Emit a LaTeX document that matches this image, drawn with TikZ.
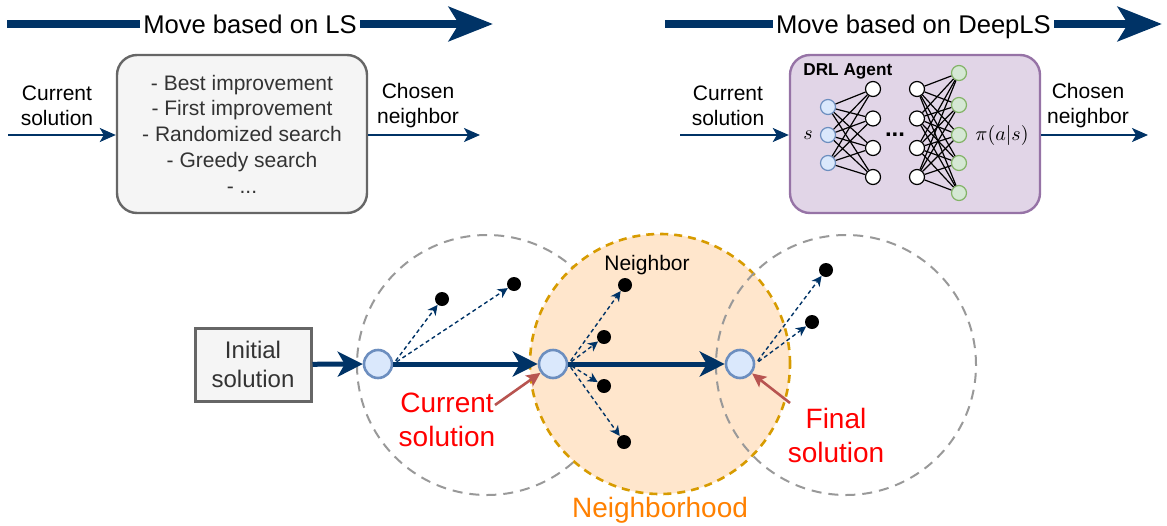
\documentclass[tikz,border=0pt]{standalone}
\usepackage{fontspec}
\setmainfont{Liberation Sans}
\usepackage{amsmath}
\usetikzlibrary{positioning, arrows.meta}

\definecolor{navy}{RGB}{0,51,102}
\definecolor{boxgray}{HTML}{F5F5F5}
\definecolor{linegray}{HTML}{666666}
\definecolor{textgray}{HTML}{333333}
\definecolor{agentfill}{HTML}{E1D5E7}
\definecolor{agentline}{HTML}{9673A6}
\definecolor{solfill}{HTML}{DAE8FC}
\definecolor{solline}{HTML}{6C8EBF}
\definecolor{outfill}{HTML}{D5E8D4}
\definecolor{outstroke}{HTML}{82B366}
\definecolor{hoodfill}{HTML}{FFE6CC}
\definecolor{hoodline}{HTML}{D79B00}
\definecolor{pointred}{HTML}{B85450}
\definecolor{hoodtext}{HTML}{FF8000}
\definecolor{dashgray}{HTML}{999999}

\begin{document}
\begin{tikzpicture}[
  x=0.5pt, y=-0.5pt,
  >=Stealth,
  lbl/.style={align=center, inner sep=0pt, font=\fontsize{10.5}{12.5}\selectfont},
  headline/.style={fill=white, text=black, inner sep=1.5pt, font=\fontsize{12.8}{15}\selectfont, text height=9.2pt, text depth=0pt},
  bigarrow/.style={navy, line width=4.3pt, -{Stealth[length=22pt, width=17pt, inset=5pt]}},
  flow/.style={navy, line width=1pt, -{Stealth[length=8pt, width=7pt, inset=2pt]}},
  move/.style={navy, line width=2.5pt, -{Stealth[length=12.5pt, width=12.5pt, inset=3.5pt]}},
  probe/.style={navy, line width=0.7pt, dash pattern=on 2pt off 1.5pt, shorten <=2pt, -{Stealth[length=5pt, width=5pt, inset=1.5pt]}},
  pointer/.style={pointred, line width=1.3pt, -{Stealth[length=7pt, width=6.5pt, inset=1.5pt]}},
  sol/.style={circle, draw=solline, fill=solfill, line width=1.3pt, minimum size=14pt, inner sep=0pt},
  nbr/.style={circle, fill=black, minimum size=7pt, inner sep=0pt},
  hood/.style={circle, draw=dashgray, line width=1pt, dash pattern=on 5pt off 3.5pt, minimum size=130pt, inner sep=0pt},
  unit/.style={circle, draw, line width=0.6pt, fill=white, minimum size=7.5pt, inner sep=0pt},
  redlbl/.style={align=center, inner sep=0pt, text=red, font=\fontsize{14}{17}\selectfont}
]
  \useasboundingbox (0,0) rectangle (1167,525);

  % move based on LS
  \coordinate (lsL) at (7,24);
  \coordinate (lsR) at (493,24);
  \draw[bigarrow] (lsL) -- node[headline] (lsTitle) {Move based on LS} (lsR);
  \node[draw=linegray, fill=boxgray, line width=1.2pt, rounded corners=10pt, minimum width=125pt, minimum height=79pt, text=textgray, align=center, font=\fontsize{10.5}{12.85}\selectfont] (lsBox) at (242,134) {- Best improvement\\- First improvement\\- Randomized search\\- Greedy search\\- ...};
  \node[lbl] (lsIn) at (57,106) {Current\\solution};
  \node[lbl] (lsOut) at (418,106) {Chosen\\neighbor};
  \coordinate (lsStart) at (8,135);
  \coordinate (lsEnd) at (480,135);
  \draw[flow] (lsStart) -- (lsStart -| lsBox.west);
  \draw[flow] (lsEnd -| lsBox.east) -- (lsEnd);

  % move based on DeepLS
  \coordinate (drlL) at (665,24);
  \coordinate (drlR) at (1162,24);
  \draw[bigarrow] (drlL) -- node[headline] (drlTitle) {Move based on DeepLS} (drlR);
  \node[draw=agentline, fill=agentfill, line width=1.2pt, rounded corners=10pt, minimum width=125pt, minimum height=79pt] (drlBox) at (915,134) {};
  \node[anchor=west, inner sep=0pt, font=\bfseries\fontsize{8.6}{10}\selectfont] (agentLbl) at (803,71) {DRL Agent};
  \node[lbl] (drlIn) at (728,106) {Current\\solution};
  \node[lbl] (drlOut) at (1088,106) {Chosen\\neighbor};
  \coordinate (drlStart) at (680,135);
  \coordinate (drlEnd) at (1148,135);
  \draw[flow] (drlStart) -- (drlStart -| drlBox.west);
  \draw[flow] (drlEnd -| drlBox.east) -- (drlEnd);

  % policy network
  \foreach \i/\y in {1/107, 2/135, 3/163}
    \node[unit, draw=solline, fill=solfill] (in\i) at (828,\y) {};
  \foreach \i/\y in {1/89, 2/118.5, 3/148, 4/177} {
    \node[unit] (ha\i) at (873,\y) {};
    \node[unit] (hb\i) at (917,\y) {};
  }
  \foreach \i/\y in {1/73, 2/105, 3/135, 4/163, 5/193}
    \node[unit, draw=outstroke, fill=outfill] (out\i) at (959,\y) {};
  \foreach \i in {1,2,3}
    \foreach \j in {1,...,4}
      \draw[line width=0.6pt] (in\i) -- (ha\j);
  \foreach \i in {1,...,4}
    \foreach \j in {1,...,5}
      \draw[line width=0.6pt] (hb\i) -- (out\j);
  \node[inner sep=0pt, font=\bfseries\fontsize{12}{12}\selectfont] (gap) at (895,135) {...};
  \node[inner sep=0pt] (stateLbl) at (808,135) {$s$};
  \node[inner sep=0pt] (policyLbl) at (1002,135) {$\pi(a|s)$};

  % neighborhoods
  \node[hood] (hoodA) at (487,365) {};
  \node[hood, draw=hoodline, fill=hoodfill, line width=1.3pt, dash pattern=on 4pt off 3pt] (hoodB) at (660,364) {};
  \node[hood] (hoodC) at (846,365) {};
  \node[below=1pt of hoodB, inner sep=0pt, text=hoodtext, font=\fontsize{14}{17}\selectfont] (hoodLbl) {Neighborhood};

  \node[draw=linegray, fill=boxgray, line width=1.5pt, minimum width=58pt, minimum height=36.5pt, text=textgray, align=center, font=\fontsize{12}{14.5}\selectfont] (init) at (253,364.5) {Initial\\solution};
  \node[sol] (solA) at (378,364) {};
  \node[sol] (solB) at (553,364) {};
  \node[sol] (solC) at (740,364) {};
  \draw[move] (init) -- (solA);
  \draw[move] (solA) -- (solB);
  \draw[move] (solB) -- (solC);

  \node[nbr] (nA1) at (442,299) {};
  \node[nbr] (nA2) at (514,284) {};
  \node[nbr] (nB1) at (625,285) {};
  \node[nbr] (nB2) at (604,337) {};
  \node[nbr] (nB3) at (604,386) {};
  \node[nbr] (nB4) at (624,442) {};
  \node[nbr] (nC1) at (826,270) {};
  \node[nbr] (nC2) at (812,322) {};
  \foreach \d in {nA1,nA2}
    \draw[probe] (solA.east) -- (\d);
  \foreach \d in {nB1,nB2,nB3,nB4}
    \draw[probe] (solB.east) -- (\d);
  \foreach \d in {nC1,nC2}
    \draw[probe] (solC.east) -- (\d);
  \node[lbl] (nbrLbl) at (647,265) {Neighbor};

  \node[redlbl] (curLbl) at (447,420) {Current\\solution};
  \node[redlbl] (finLbl) at (836,435) {Final\\solution};
  \coordinate (curTail) at (495,405);
  \coordinate (finTail) at (790,403);
  \draw[pointer] (curTail) -- (solB);
  \draw[pointer] (finTail) -- (solC);
\end{tikzpicture}
\end{document}
